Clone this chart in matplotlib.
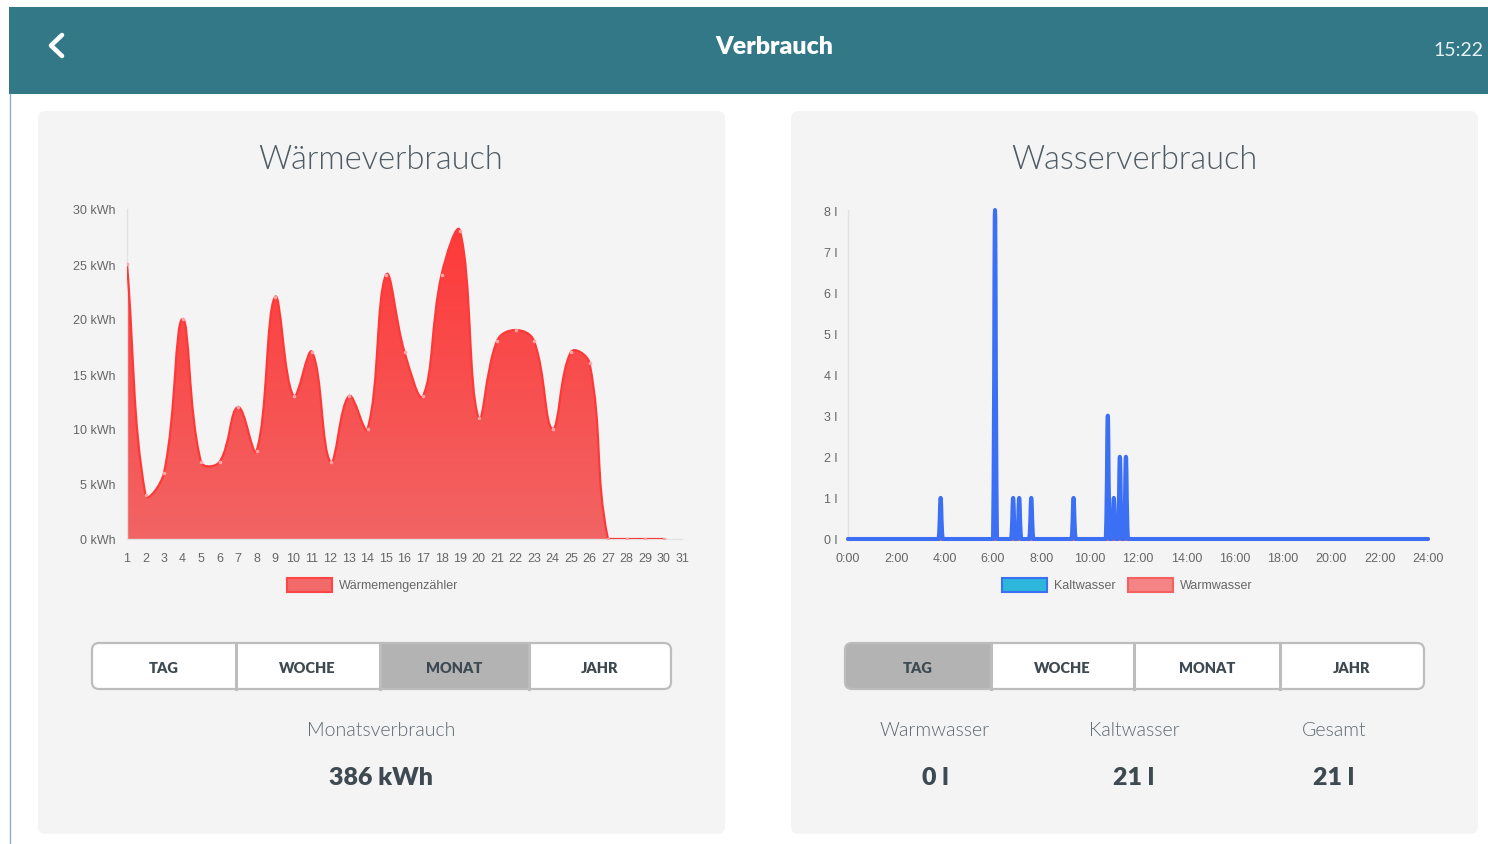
import numpy as np
import matplotlib
matplotlib.use("Agg")
import matplotlib.pyplot as plt
from matplotlib.patches import Rectangle, FancyBboxPatch, PathPatch
from matplotlib.path import Path

# daily heat consumption (kWh), day 31 has no reading yet
days = list(range(1, 31))
heat_kwh = [25, 4, 6, 20, 7, 7, 12, 8, 22, 13, 17, 7, 13, 10, 24,
            17, 13, 24, 28, 11, 18, 19, 18, 10, 17, 16, 0, 0, 0, 0]
day_labels = [str(d) for d in range(1, 32)]

# water readings of today, 5 minute slots, only the non-zero ones listed
water_times = ["3:50", "6:05", "6:50", "7:05", "7:35", "9:20",
               "10:45", "11:00", "11:15", "11:30"]
cold_litres = [1, 8, 1, 1, 1, 1, 3, 1, 2, 2]
hour_labels = [f"{h}:00" for h in range(0, 25, 2)]

buttons = ["TAG", "WOCHE", "MONAT", "JAHR"]

UI = ["Lato", "DejaVu Sans"]
CH = ["Liberation Sans", "DejaVu Sans"]
LIGHT = 300
BOLD = 800

W, H = 1488, 845
fig = plt.figure(figsize=(W / 100, H / 100), dpi=100)
fig.patch.set_facecolor("white")
bg = fig.add_axes([0, 0, 1, 1])
bg.set_xlim(0, W)
bg.set_ylim(H, 0)
bg.axis("off")


def px_axes(x0, y0, x1, y1):
    a = fig.add_axes([x0 / W, 1 - y1 / H, (x1 - x0) / W, (y1 - y0) / H])
    a.set_facecolor("none")
    return a


def spline_path(ax, xs, ys, tension=0.4):
    # chart.js style bezier through the points, control points kept in the chart area
    pts = ax.transData.transform(np.column_stack([xs, ys]).astype(float))
    bb = ax.bbox
    n = len(pts)
    cprev, cnext = [], []
    for i in range(n):
        p1 = pts[i]
        p0 = pts[i - 1] if i > 0 else p1
        p2 = pts[i + 1] if i < n - 1 else p1
        d01 = np.hypot(*(p1 - p0))
        d12 = np.hypot(*(p2 - p1))
        tot = d01 + d12
        s01 = d01 / tot if tot else 0
        s12 = d12 / tot if tot else 0
        a = p1 - tension * s01 * (p2 - p0)
        b = p1 + tension * s12 * (p2 - p0)
        for c in (a, b):
            c[1] = min(max(c[1], bb.y0), bb.y1)
        cprev.append(a)
        cnext.append(b)
    verts = [pts[0]]
    codes = [Path.MOVETO]
    for i in range(n - 1):
        verts += [cnext[i], cprev[i + 1], pts[i + 1]]
        codes += [Path.CURVE4] * 3
    inv = ax.transData.inverted()
    return inv.transform(np.array(verts)), codes


def style_axes(ax):
    for s in ["top", "right"]:
        ax.spines[s].set_visible(False)
    for s in ["left", "bottom"]:
        ax.spines[s].set_color("#e2e2e2")
        ax.spines[s].set_linewidth(1)
    ax.tick_params(length=0, labelsize=9, labelcolor="#666666")
    ax.tick_params(axis="x", pad=9)
    ax.tick_params(axis="y", pad=8)
    for lab in ax.get_xticklabels() + ax.get_yticklabels():
        lab.set_family(CH)


# header
bg.add_patch(Rectangle((9, 8), W - 9, 87, color="#327887", lw=0))
bg.plot([9.5, 9.5], [95, H], color="#8fb0ba", lw=1)
bg.plot([62, 51, 62], [36, 46.5, 57], color="white", lw=3.3,
        solid_capstyle="round", solid_joinstyle="round")
bg.text(774, 47, "Verbrauch", ha="center", va="center", color="white",
        fontsize=18, fontweight=BOLD, family=UI)
bg.text(1483, 51, "15:22", ha="right", va="center", color="#e8f0f2",
        fontsize=14, family=UI)

# cards
for x0 in (38, 791):
    bg.add_patch(FancyBboxPatch((x0, 112), 687, 723,
                                boxstyle="round,pad=0,rounding_size=8",
                                fc="#f4f4f4", ec="none"))

bg.text(381, 160, "Wärmeverbrauch", ha="center", va="center",
        color="#4f5b63", fontsize=23.5, fontweight=LIGHT, family=UI)
bg.text(1134, 160, "Wasserverbrauch", ha="center", va="center",
        color="#4f5b63", fontsize=23.5, fontweight=LIGHT, family=UI)

# heat chart
ax1 = px_axes(127, 210, 682, 540)
grad = np.linspace([242, 100, 100], [255, 55, 55], 200)[:, None, :] / 255
im = ax1.imshow(grad, extent=[1, 31, 0, 30], origin="lower", aspect="auto", zorder=1)
ax1.set_xlim(1, 31)
ax1.set_ylim(0, 30)
verts, codes = spline_path(ax1, days, heat_kwh)
line_path = Path(verts, codes)
area = Path(np.vstack([verts, [[days[-1], 0], [days[0], 0], [days[0], 0]]]),
            codes + [Path.LINETO, Path.LINETO, Path.CLOSEPOLY])
clip = PathPatch(area, fc="none", ec="none", transform=ax1.transData)
ax1.add_patch(clip)
im.set_clip_path(clip)
ax1.add_patch(PathPatch(line_path, fc="none", ec="#ff3838", lw=1.6, zorder=3))
ax1.plot(days, heat_kwh, "o", ms=1.6, color="#ffa5a5", zorder=4)
ax1.set_xticks(range(1, 32))
ax1.set_xticklabels(day_labels)
ax1.set_yticks(range(0, 31, 5))
ax1.set_yticklabels([f"{v} kWh" for v in range(0, 31, 5)])
style_axes(ax1)

# water chart
slots = np.arange(0, 24 * 60 + 1, 5)
cold = np.zeros(len(slots))
for t, v in zip(water_times, cold_litres):
    hh, mm = t.split(":")
    cold[np.searchsorted(slots, int(hh) * 60 + int(mm))] = v
warm = np.zeros(len(slots))
hours = slots / 60

ax2 = px_axes(848, 211, 1428, 540)
ax2.set_xlim(0, 24)
ax2.set_ylim(0, 8)
for series, col, z in ((warm, "#f06a6a", 3), (cold, "#3b6ff4", 4)):
    v, c = spline_path(ax2, hours, series)
    ax2.add_patch(PathPatch(Path(v, c), fc="none", ec=col, lw=2.9, zorder=z,
                            clip_on=False, capstyle="round", joinstyle="round"))
ax2.set_xticks(range(0, 25, 2))
ax2.set_xticklabels(hour_labels)
ax2.set_yticks(range(0, 9))
ax2.set_yticklabels([f"{v} l" for v in range(0, 9)])
style_axes(ax2)

# legends
def legend_box(x, label, fc, ec):
    bg.add_patch(Rectangle((x, 579), 45, 14, fc=fc, ec=ec, lw=1.5))
    bg.text(x + 52, 586, label, ha="left", va="center", fontsize=9,
            color="#666666", family=CH)

legend_box(287, "Wärmemengenzähler", "#f26a6a", "#ff4545")
legend_box(1002, "Kaltwasser", "#2bb6da", "#3b6ff4")
legend_box(1128, "Warmwasser", "#f58585", "#f56060")

# period buttons
def button_bar(x0, x1, edges, active):
    bg.add_patch(FancyBboxPatch((x0, 644), x1 - x0, 46,
                                boxstyle="round,pad=0,rounding_size=7",
                                fc="white", ec="none"))
    a0, a1 = edges[active], edges[active + 1]
    if active == 0:
        bg.add_patch(FancyBboxPatch((a0, 644), a1 - a0, 46,
                                    boxstyle="round,pad=0,rounding_size=7",
                                    fc="#b3b3b3", ec="none"))
        bg.add_patch(Rectangle((a1 - 12, 644), 12, 46, fc="#b3b3b3", ec="none"))
    else:
        bg.add_patch(Rectangle((a0, 644), a1 - a0, 46, fc="#b3b3b3", ec="none"))
    for e in edges[1:-1]:
        bg.plot([e, e], [644, 690], color="#bdbdbd", lw=2.2)
    bg.add_patch(FancyBboxPatch((x0, 644), x1 - x0, 46,
                                boxstyle="round,pad=0,rounding_size=7",
                                fc="none", ec="#bdbdbd", lw=1.6))
    for i, name in enumerate(buttons):
        bg.text((edges[i] + edges[i + 1]) / 2, 669, name, ha="center", va="center",
                fontsize=10.5, fontweight=BOLD, color="#3e4a51", family=UI)

button_bar(92, 671, [92, 236, 379.5, 528.5, 671], 2)
button_bar(845, 1424, [845, 990.5, 1134, 1280, 1424], 0)

# totals
bg.text(381, 731, "Monatsverbrauch", ha="center", va="center", fontsize=14,
        fontweight=LIGHT, color="#5c6870", family=UI)
bg.text(381, 778, f"{sum(heat_kwh)} kWh", ha="center", va="center", fontsize=18,
        fontweight=BOLD, color="#3e4a51", family=UI)
for x, name, val in ((935, "Warmwasser", int(warm.sum())),
                     (1134, "Kaltwasser", int(cold.sum())),
                     (1334, "Gesamt", int(warm.sum() + cold.sum()))):
    bg.text(x, 731, name, ha="center", va="center", fontsize=14,
            fontweight=LIGHT, color="#5c6870", family=UI)
    bg.text(x, 778, f"{val} l", ha="center", va="center", fontsize=18,
            fontweight=BOLD, color="#3e4a51", family=UI)

fig.savefig("out.png", dpi=100, facecolor="white")
